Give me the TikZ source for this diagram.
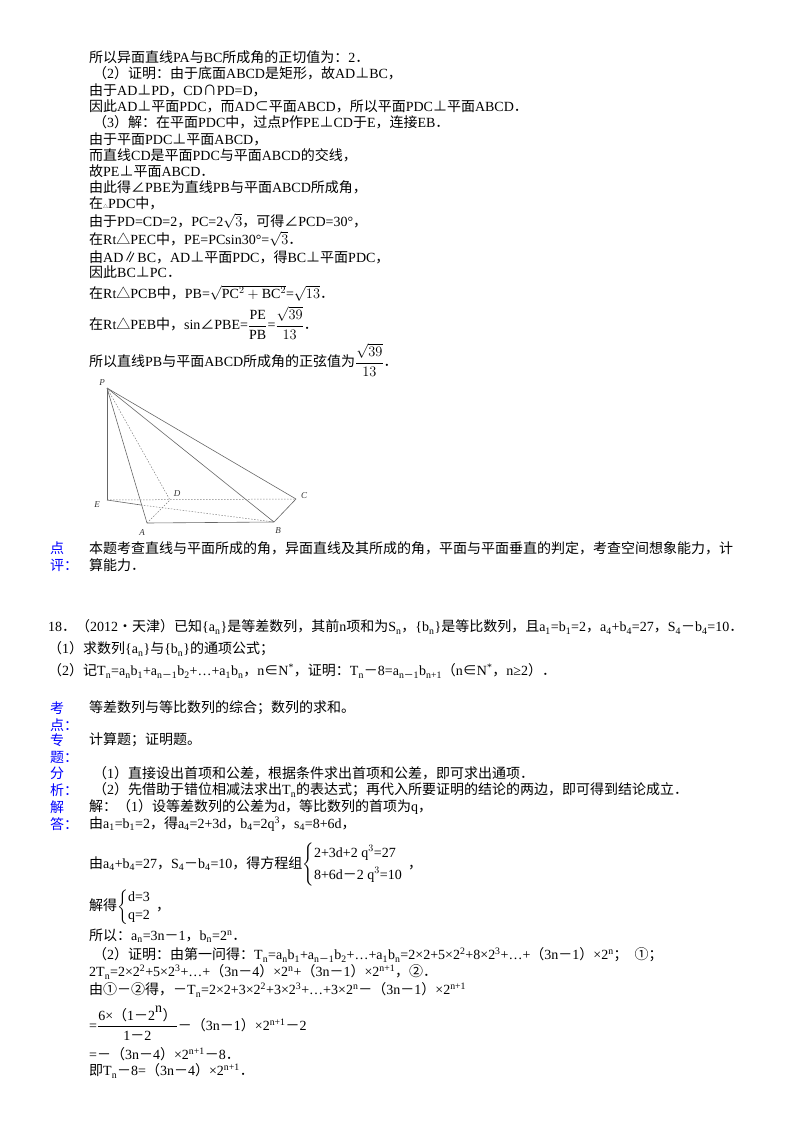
\documentclass[tikz,border=0pt]{standalone}
\usepackage{amsmath}
\usepackage{fontspec}
\setmainfont{Liberation Serif}
\newfontfamily\cjk{Noto Sans CJK SC}
\XeTeXinterchartokenstate=1
\newXeTeXintercharclass\CJKcls
\newcount\cc
\cc="3000 \loop \XeTeXcharclass\cc=\CJKcls \advance\cc by 1 \ifnum\cc<"3040 \repeat
\cc="4E00 \loop \XeTeXcharclass\cc=\CJKcls \advance\cc by 1 \ifnum\cc<"A000 \repeat
\cc="FF00 \loop \XeTeXcharclass\cc=\CJKcls \advance\cc by 1 \ifnum\cc<"FFF0 \repeat
\XeTeXcharclass"22A5=\CJKcls \XeTeXcharclass"2229=\CJKcls \XeTeXcharclass"2282=\CJKcls
\XeTeXcharclass"2220=\CJKcls \XeTeXcharclass"25B3=\CJKcls \XeTeXcharclass"2225=\CJKcls
\XeTeXcharclass"2208=\CJKcls \XeTeXcharclass"2460=\CJKcls \XeTeXcharclass"2461=\CJKcls
\XeTeXcharclass"2022=\CJKcls \XeTeXcharclass"25B5=\CJKcls
\XeTeXinterchartoks 0 \CJKcls={\begingroup\cjk}
\XeTeXinterchartoks 4095 \CJKcls={\begingroup\cjk}
\XeTeXinterchartoks \CJKcls 0={\endgroup}
\XeTeXinterchartoks \CJKcls 4095={\endgroup}
\newcommand{\Dn}[1]{\textsubscript{#1}}
\newcommand{\Up}[1]{\textsuperscript{#1}}
\begin{document}
\begin{tikzpicture}[x=1pt,y=-1pt,
  tl/.style={anchor=west,inner sep=0pt,font=\fontsize{14}{16}\selectfont},
  lab/.style={anchor=west,inner sep=0pt,font=\fontsize{14}{16}\selectfont,text=blue},
  fig/.style={draw=black!60,line width=0.6pt},
  figd/.style={draw=black!50,line width=0.5pt,dashed,dash pattern=on 1.5pt off 1.5pt},
  fl/.style={font=\small\itshape,text=black!80}]
\useasboundingbox (0,0) rectangle (800,1132);
\node[tl] (t1) at (89,57) {所以异面直线PA与BC所成角的正切值为：2．};
\node[tl] (t2) at (93,73) {（2）证明：由于底面ABCD是矩形，故AD⊥BC，};
\node[tl] (t3) at (89,90) {由于AD⊥PD，CD∩PD=D，};
\node[tl] (t4) at (89,106) {因此AD⊥平面PDC，而AD⊂平面ABCD，所以平面PDC⊥平面ABCD．};
\node[tl] (t5) at (93,122) {（3）解：在平面PDC中，过点P作PE⊥CD于E，连接EB．};
\node[tl] (t6) at (89,139) {由于平面PDC⊥平面ABCD，};
\node[tl] (t7) at (89,155) {而直线CD是平面PDC与平面ABCD的交线，};
\node[tl] (t8) at (89,171) {故PE⊥平面ABCD．};
\node[tl] (t9) at (89,187) {由此得∠PBE为直线PB与平面ABCD所成角，};
\node[tl] (t10) at (89,203) {在{\tiny△}PDC中，};
\node[tl] (t11) at (89,221) {由于PD=CD=2，PC=2$\sqrt{3}$，可得∠PCD=30°，};
\node[tl] (t12) at (89,239) {在Rt△PEC中，PE=PCsin30°=$\sqrt{3}$．};
\node[tl] (t13) at (89,257) {由AD∥BC，AD⊥平面PDC，得BC⊥平面PDC，};
\node[tl] (t14) at (89,272) {因此BC⊥PC．};
\node[tl] (t15) at (89,293) {在Rt△PCB中，PB=$\sqrt{\mbox{PC}^2+\mbox{BC}^2}$=$\sqrt{13}$．};
\node[tl] (t16) at (89,323) {在Rt△PEB中，sin∠PBE=$\dfrac{\mbox{PE}}{\mbox{PB}}$=$\dfrac{\sqrt{39}}{13}$．};
\node[tl] (t17) at (89,360) {所以直线PB与平面ABCD所成角的正弦值为$\dfrac{\sqrt{39}}{13}$．};
% figure
\coordinate (P) at (107,388); \coordinate (E) at (107,500);
\coordinate (D) at (170,500); \coordinate (C) at (296,499);
\coordinate (A) at (147,523); \coordinate (B) at (274,522);
\coordinate (Ea) at (141,505);
\draw[fig] (P) -- (E); \draw[fig] (P) -- (A); \draw[fig] (P) -- (B); \draw[fig] (P) -- (C);
\draw[fig] (A) -- (B) -- (C); \draw[fig] (E) -- (Ea);
\draw[figd] (P) -- (D); \draw[figd] (E) -- (C); \draw[figd] (A) -- (D); \draw[figd] (Ea) -- (B);
\node[fl] (lP) at (102,383) {P};
\node[fl] (lE) at (97,505) {E};
\node[fl] (lD) at (177,494) {D};
\node[fl] (lC) at (304,496) {C};
\node[fl] (lA) at (142,533) {A};
\node[fl] (lB) at (278,531) {B};
% comment
\node[lab] (k1) at (50,548) {点};
\node[lab] (k2) at (50,565) {评：};
\node[tl] (c1) at (89,548) {本题考查直线与平面所成的角，异面直线及其所成的角，平面与平面垂直的判定，考查空间想象能力，计};
\node[tl] (c2) at (89,565) {算能力．};
% problem 18
\node[tl] (q1) at (48,627) {18．（2012•天津）已知\{a\Dn{n}\}是等差数列，其前n项和为S\Dn{n}，\{b\Dn{n}\}是等比数列，且a\Dn{1}=b\Dn{1}=2，a\Dn{4}+b\Dn{4}=27，S\Dn{4}－b\Dn{4}=10．};
\node[tl] (q2) at (48,649) {（1）求数列\{a\Dn{n}\}与\{b\Dn{n}\}的通项公式；};
\node[tl] (q3) at (48,671) {（2）记T\Dn{n}=a\Dn{n}b\Dn{1}+a\Dn{n－1}b\Dn{2}+…+a\Dn{1}b\Dn{n}，n∈N\Up{*}，证明：T\Dn{n}－8=a\Dn{n－1}b\Dn{n+1}（n∈N\Up{*}，n≥2）．};
\node[lab] (b1) at (50,708) {考};
\node[lab] (b2) at (50,725) {点：};
\node[lab] (b3) at (50,740) {专};
\node[lab] (b4) at (50,757) {题：};
\node[lab] (b5) at (50,773) {分};
\node[lab] (b6) at (50,790) {析：};
\node[lab] (b7) at (50,807) {解};
\node[lab] (b8) at (50,824) {答：};
\node[tl] (s1) at (89,708) {等差数列与等比数列的综合；数列的求和。};
\node[tl] (s2) at (89,740) {计算题；证明题。};
\node[tl] (s3) at (93,773) {（1）直接设出首项和公差，根据条件求出首项和公差，即可求出通项．};
\node[tl] (s4) at (93,790) {（2）先借助于错位相减法求出T\Dn{n}的表达式；再代入所要证明的结论的两边，即可得到结论成立．};
\node[tl] (s5) at (89,807) {解：（1）设等差数列的公差为d，等比数列的首项为q，};
\node[tl] (s6) at (89,824) {由a\Dn{1}=b\Dn{1}=2，得a\Dn{4}=2+3d，b\Dn{4}=2q\Up{3}，s\Dn{4}=8+6d，};
\node[tl] (s7) at (89,865) {由a\Dn{4}+b\Dn{4}=27，S\Dn{4}－b\Dn{4}=10，得方程组$\left\{\begin{array}{@{}l}\mbox{2+3d+2 q}^3\mbox{=27}\\[5pt]\mbox{8+6d－2 q}^3\mbox{=10}\end{array}\right.$，};
\node[tl] (s8) at (89,907) {解得$\left\{\begin{array}{@{}l}\mbox{d=3}\\[2pt]\mbox{q=2}\end{array}\right.$，};
\node[tl] (s9) at (89,936) {所以：a\Dn{n}=3n－1，b\Dn{n}=2\Up{n}．};
\node[tl] (s10) at (93,955) {（2）证明：由第一问得：T\Dn{n}=a\Dn{n}b\Dn{1}+a\Dn{n－1}b\Dn{2}+…+a\Dn{1}b\Dn{n}=2×2+5×2\Up{2}+8×2\Up{3}+…+（3n－1）×2\Up{n}；\ \ ①；};
\node[tl] (s11) at (89,972) {2T\Dn{n}=2×2\Up{2}+5×2\Up{3}+…+（3n－4）×2\Up{n}+（3n－1）×2\Up{n+1}，②．};
\node[tl] (s12) at (89,990) {由①－②得，－T\Dn{n}=2×2+3×2\Up{2}+3×2\Up{3}+…+3×2\Up{n}－（3n－1）×2\Up{n+1}};
\node[tl] (s13) at (89,1023) {=$\dfrac{\mbox{6×（1－2}^{\mbox{n}}\mbox{）}}{\mbox{1－2}}$－（3n－1）×2\Up{n+1}－2};
\node[tl] (s14) at (89,1054) {=－（3n－4）×2\Up{n+1}－8．};
\node[tl] (s15) at (89,1071) {即T\Dn{n}－8=（3n－4）×2\Up{n+1}．};
\end{tikzpicture}
\end{document}
